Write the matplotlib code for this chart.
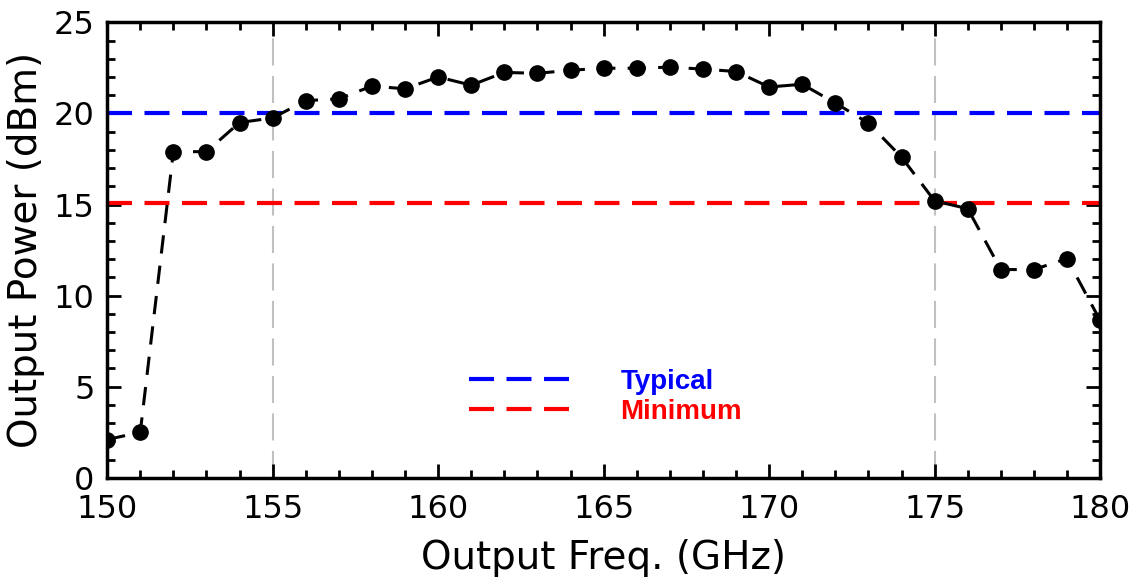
import numpy as np
import matplotlib.pyplot as plt
from matplotlib.ticker import MultipleLocator
from matplotlib.lines import Line2D

# measured output power vs frequency
freq = np.arange(150, 181)
power = [2.1, 2.5, 17.9, 17.9, 19.5, 19.75, 20.7, 20.8, 21.5, 21.35,
         22.0, 21.55, 22.25, 22.2, 22.37, 22.48, 22.48, 22.54, 22.43, 22.3,
         21.45, 21.6, 20.57, 19.47, 17.6, 15.2, 14.77, 11.43, 11.43, 12.03,
         8.64]
typical = 20.0
minimum = 15.1
band_edges = [155, 175]

fig = plt.figure(figsize=(11.4, 5.87), dpi=100)
ax = fig.add_axes([0.094, 0.186, 0.871, 0.776])

spec_ls = (0, (6, 3))
for f in band_edges:
    ax.axvline(f, color='#c0c0c0', lw=1.5, ls=(0, (13, 5)), zorder=1)
ax.axhline(typical, color='blue', lw=3, ls=spec_ls, zorder=2)
ax.axhline(minimum, color='red', lw=3, ls=spec_ls, zorder=2)
ax.plot(freq, power, color='black', lw=2.2, ls=(0, (6, 4)), marker='o', ms=11, zorder=3)

ax.set_xlim(150, 180)
ax.set_ylim(0, 25)
ax.xaxis.set_major_locator(MultipleLocator(5))
ax.xaxis.set_minor_locator(MultipleLocator(1))
ax.yaxis.set_major_locator(MultipleLocator(5))
ax.yaxis.set_minor_locator(MultipleLocator(1))
ax.tick_params(which='both', direction='in', top=True, right=True, width=2,
               labelsize=23)
ax.tick_params(axis='x', pad=12)
ax.tick_params(axis='y', pad=9)
ax.tick_params(which='major', length=10)
ax.tick_params(which='minor', length=6)
for s in ax.spines.values():
    s.set_linewidth(2.5)

ax.set_xlabel('Output Freq. (GHz)', fontsize=28, labelpad=10)
ax.set_ylabel('Output Power (dBm)', fontsize=28, labelpad=6)

handles = [Line2D([], [], color='blue', lw=3, ls=spec_ls),
           Line2D([], [], color='red', lw=3, ls=spec_ls)]
leg = ax.legend(handles, ['Typical', 'Minimum'], loc='center', bbox_to_anchor=(0.502, 0.178),
                frameon=False, handlelength=3.64, handletextpad=1.8,
                labelspacing=0.15, prop={'family': 'Liberation Sans', 'weight': 'bold', 'size': 20})
for t, c in zip(leg.get_texts(), ['blue', 'red']):
    t.set_color(c)

fig.savefig('out.png', dpi=100)
